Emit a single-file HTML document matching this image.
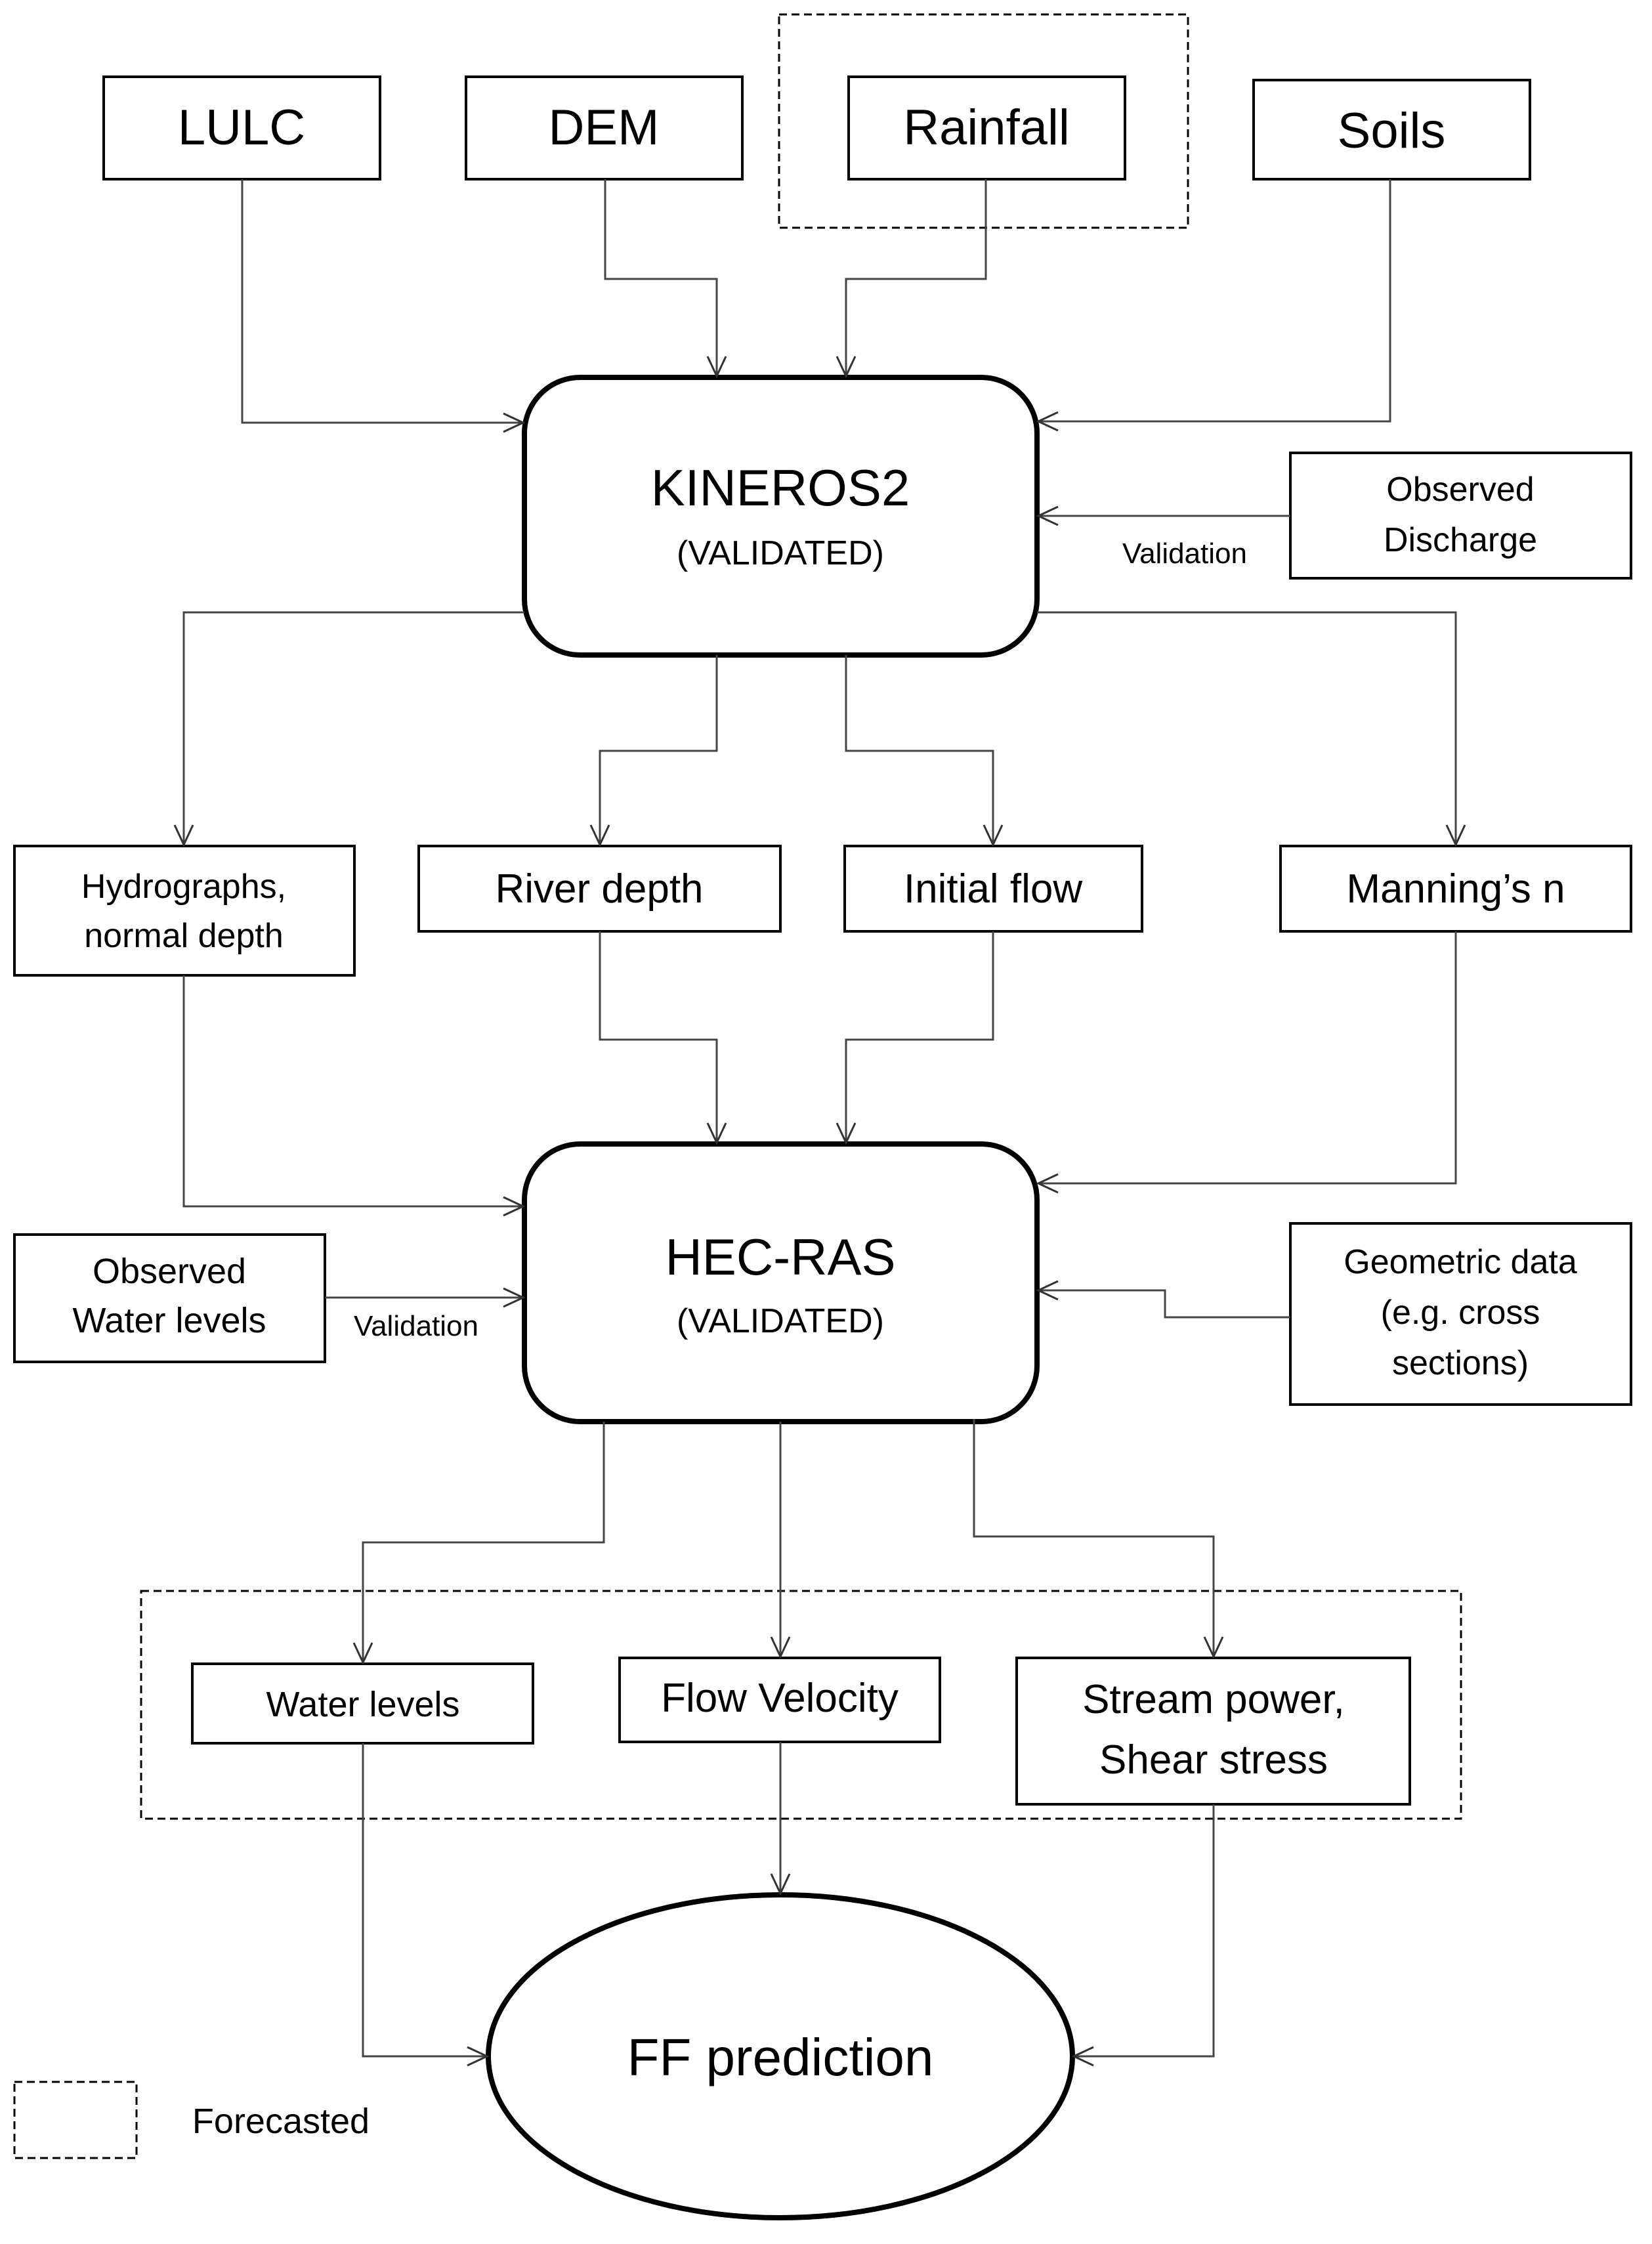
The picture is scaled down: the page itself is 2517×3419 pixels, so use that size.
<!DOCTYPE html>
<html><head><meta charset="utf-8"><style>html,body{margin:0;padding:0;background:#fff}svg{display:block}</style></head><body>
<svg width="2517" height="3419" viewBox="0 0 2517 3419" xmlns="http://www.w3.org/2000/svg" font-family="Liberation Sans, sans-serif">
<defs>
<marker id="a" markerUnits="userSpaceOnUse" markerWidth="40" markerHeight="40" refX="34" refY="20" orient="auto">
<polyline points="4,6 34,20 4,34" fill="none" stroke="#333" stroke-width="3"/>
</marker>
</defs>
<rect width="2517" height="3419" fill="#fff"/>
<g fill="none" stroke="#000" stroke-width="4">
<rect x="158" y="117" width="421" height="156"/>
<rect x="710" y="117" width="421" height="156"/>
<rect x="1293" y="117" width="421" height="156"/>
<rect x="1910" y="122" width="421" height="151"/>
<rect x="1966" y="690" width="519" height="191"/>
<rect x="22" y="1289" width="518" height="197"/>
<rect x="638" y="1289" width="551" height="130"/>
<rect x="1287" y="1289" width="453" height="130"/>
<rect x="1951" y="1289" width="534" height="130"/>
<rect x="22" y="1881" width="473" height="194"/>
<rect x="1966" y="1864" width="519" height="276"/>
<rect x="293" y="2535" width="519" height="121"/>
<rect x="944" y="2526" width="488" height="128"/>
<rect x="1549" y="2526" width="599" height="223"/>
</g>
<g fill="none" stroke="#000" stroke-width="3" stroke-dasharray="12,7">
<rect x="1187" y="22" width="623" height="325"/>
<rect x="215" y="2424" width="2011" height="347"/>
<rect x="22" y="3172" width="186" height="116"/>
</g>
<g fill="#fff" stroke="#000" stroke-width="8">
<rect x="799" y="575" width="781" height="423" rx="85"/>
<rect x="799" y="1743" width="781" height="423" rx="85"/>
<ellipse cx="1189" cy="3133" rx="445" ry="246"/>
</g>
<g fill="none" stroke="#444" stroke-width="3" marker-end="url(#a)">
<polyline points="369,273 369,644 797,644"/>
<polyline points="922,273 922,425 1092,425 1092,573"/>
<polyline points="1502,273 1502,425 1289,425 1289,573"/>
<polyline points="2118,273 2118,642 1582,642"/>
<polyline points="1966,786 1582,786"/>
<polyline points="799,933 280,933 280,1287"/>
<polyline points="1580,933 2218,933 2218,1287"/>
<polyline points="1092,998 1092,1144 914,1144 914,1287"/>
<polyline points="1289,998 1289,1144 1513,1144 1513,1287"/>
<polyline points="280,1486 280,1838 797,1838"/>
<polyline points="914,1419 914,1584 1092,1584 1092,1741"/>
<polyline points="1513,1419 1513,1584 1289,1584 1289,1741"/>
<polyline points="2218,1419 2218,1803 1582,1803"/>
<polyline points="495,1977 797,1977"/>
<polyline points="1966,2007 1775,2007 1775,1966 1582,1966"/>
<polyline points="920,2166 920,2350 553,2350 553,2533"/>
<polyline points="1189,2166 1189,2524"/>
<polyline points="1484,2162 1484,2341 1849,2341 1849,2524"/>
<polyline points="553,2656 553,3133 742,3133"/>
<polyline points="1189,2654 1189,2885"/>
<polyline points="1849,2749 1849,3133 1636,3133"/>
</g>
<g fill="#000" text-anchor="middle">
<text x="368" y="220" font-size="76">LULC</text>
<text x="920" y="220" font-size="76">DEM</text>
<text x="1503" y="220" font-size="76">Rainfall</text>
<text x="2120" y="225" font-size="76">Soils</text>
<text x="1189" y="770" font-size="78">KINEROS2</text>
<text x="1189" y="860" font-size="52">(VALIDATED)</text>
<text x="1189" y="1942" font-size="78">HEC-RAS</text>
<text x="1189" y="2030" font-size="52">(VALIDATED)</text>
<text x="2225" y="763" font-size="52">Observed</text>
<text x="2225" y="840" font-size="52">Discharge</text>
<text x="1805" y="858" font-size="44">Validation</text>
<text x="280" y="1368" font-size="52">Hydrographs,</text>
<text x="280" y="1443" font-size="52">normal depth</text>
<text x="913" y="1375" font-size="62">River depth</text>
<text x="1513" y="1375" font-size="62">Initial flow</text>
<text x="2218" y="1375" font-size="62">Manning’s n</text>
<text x="258" y="1955" font-size="54">Observed</text>
<text x="258" y="2030" font-size="54">Water levels</text>
<text x="634" y="2035" font-size="44">Validation</text>
<text x="2225" y="1940" font-size="52">Geometric data</text>
<text x="2225" y="2017" font-size="52">(e.g. cross</text>
<text x="2225" y="2094" font-size="52">sections)</text>
<text x="553" y="2615" font-size="54">Water levels</text>
<text x="1188" y="2608" font-size="62">Flow Velocity</text>
<text x="1849" y="2610" font-size="62">Stream power,</text>
<text x="1849" y="2702" font-size="62">Shear stress</text>
<text x="1189" y="3162" font-size="80">FF prediction</text>
<text x="428" y="3250" font-size="54">Forecasted</text>
</g>
</svg>
</body></html>
